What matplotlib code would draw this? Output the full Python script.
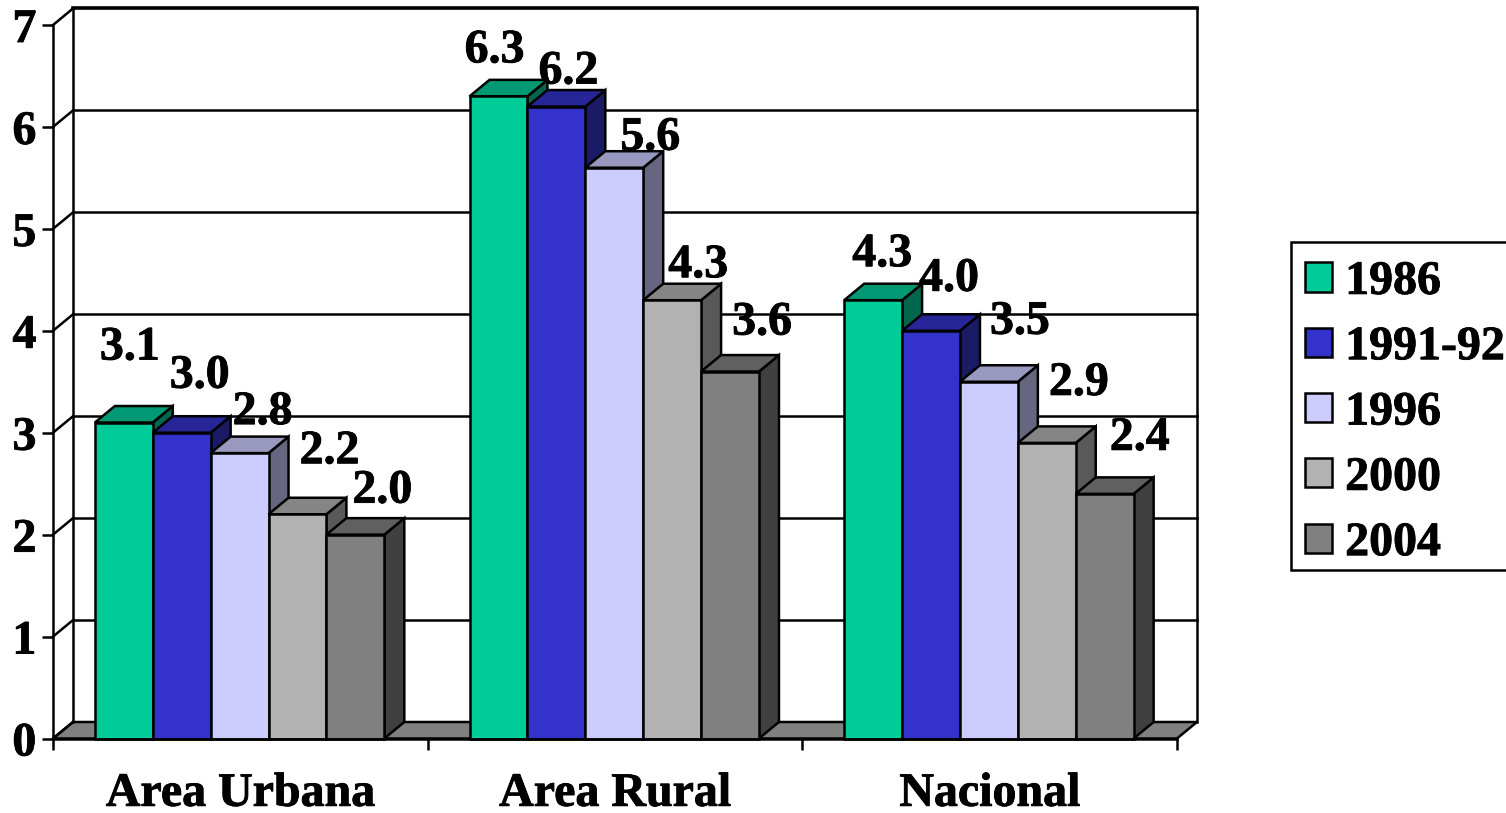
import numpy as np
import matplotlib
matplotlib.use('Agg')
import matplotlib.pyplot as plt
import matplotlib.patheffects as pe
from matplotlib.patches import Polygon, Patch, Rectangle
from matplotlib.text import Text

plt.rcParams['font.family'] = ['Liberation Serif', 'DejaVu Serif']
plt.rcParams['font.weight'] = 'bold'

# datos
categorias = ['Area Urbana', 'Area Rural', 'Nacional']
series = ['1986', '1991-92', '1996', '2000', '2004']
v_1986 = [3.1, 6.3, 4.3]
v_1991 = [3.0, 6.2, 4.0]
v_1996 = [2.8, 5.6, 3.5]
v_2000 = [2.2, 4.3, 2.9]
v_2004 = [2.0, 3.6, 2.4]
valores = [v_1986, v_1991, v_1996, v_2000, v_2004]
colores = ['#00CC99', '#3333CC', '#CCCCFF', '#B2B2B2', '#808080']

# desplazamiento manual de las etiquetas respecto al tope de cada barra (pixeles)
off_x = [[6, 18, 23, 32, 27], [-4, 12, 36, 26, 32], [9, 18, 31, 32, 35]]
off_y = [[63, 45, 29, 51, 32], [34, 23, 18, 23, 37], [34, 40, 48, 48, 44]]

W, H, FS = 1506, 813, 34.5
fig = plt.figure(figsize=(W / 100, H / 100), dpi=100)
ax = fig.add_axes([53 / W, (H - 738.5) / H, 1124 / W, 713.5 / H])
ax.set_xlim(0, 3)
ax.set_ylim(0, 7)

# profundidad del efecto 3D en unidades de datos
dx = 20 / (1124 / 3)
dy = 16.5 / (713.5 / 7)
bw = 0.1545
gap = (1 - 5 * bw) / 2 - 0.002
LW = 1.8


def sombra(color, f):
    rgb = np.array(matplotlib.colors.to_rgb(color))
    return tuple(rgb * f)


# paredes y piso
ax.add_patch(Polygon([(0, 0), (3, 0), (3 + dx, dy), (dx, dy)], closed=True, fc='#808080', ec='black',
                     lw=LW, clip_on=False, zorder=1))
ax.plot([dx, dx], [dy, 7 + dy], color='black', lw=LW, clip_on=False, zorder=1)
ax.plot([3 + dx, 3 + dx], [dy, 7 + dy], color='black', lw=LW, clip_on=False, zorder=1)
for t in range(1, 8):
    ax.plot([dx, 3 + dx], [t + dy, t + dy], color='black', lw=LW if t < 7 else 2.6, clip_on=False, zorder=1)
for t in range(0, 8):
    ax.plot([0, dx], [t, t + dy], color='black', lw=LW, clip_on=False, zorder=1)

# barras
for g in range(len(categorias)):
    for s in range(len(series)):
        x0 = g + gap + s * bw
        x1 = x0 + bw
        v = valores[s][g]
        c = colores[s]
        z = 2 + g + s * 0.1
        ax.add_patch(Polygon([(x1, 0), (x1 + dx, dy), (x1 + dx, v + dy), (x1, v)], closed=True,
                             fc=sombra(c, 0.5), ec='black', lw=LW, clip_on=False, zorder=z))
        ax.add_patch(Polygon([(x0, v), (x1, v), (x1 + dx, v + dy), (x0 + dx, v + dy)], closed=True,
                             fc=sombra(c, 0.75), ec='black', lw=LW, clip_on=False, zorder=z))
        ax.add_patch(Polygon([(x0, 0), (x1, 0), (x1, v), (x0, v)], closed=True,
                             fc=c, ec='black', lw=LW, clip_on=False, zorder=z + 0.01))

for g in range(len(categorias)):
    for s in range(len(series)):
        xc = g + gap + (s + 0.5) * bw
        ax.annotate('%.1f' % valores[s][g], (xc, valores[s][g]),
                    xytext=(off_x[g][s], off_y[g][s]), textcoords='offset pixels',
                    ha='center', va='baseline', fontsize=FS, fontweight='bold', zorder=20,
                    annotation_clip=False)

# ejes
for lado in ['top', 'right']:
    ax.spines[lado].set_visible(False)
for lado in ['left', 'bottom']:
    ax.spines[lado].set_linewidth(LW)
    ax.spines[lado].set_zorder(15)
ax.patch.set_alpha(0)
ax.set_yticks(range(8))
ax.tick_params(axis='y', length=8, width=LW, pad=4, labelsize=FS)
ax.set_xticks([0, 1, 2, 3])
ax.set_xticklabels([])
ax.tick_params(axis='x', which='major', length=8, width=LW)
ax.set_xticks([0.5, 1.5, 2.5], minor=True)
ax.set_xticklabels(categorias, minor=True, fontsize=FS, fontweight='bold')
ax.tick_params(axis='x', which='minor', length=0, pad=24)

# leyenda: marco aparte para ajustar el alto exacto
fig.add_artist(Rectangle((1291 / W, (H - 570) / H), 240 / W, 328 / H, transform=fig.transFigure,
                         fc='white', ec='black', lw=LW))
handles = [Patch(fc=c, ec='black', lw=LW) for c in colores]
ley = fig.legend(handles, series, loc='upper left', bbox_to_anchor=(1291 / W, (H - 245.5) / H),
                 bbox_transform=fig.transFigure, borderaxespad=0, fontsize=FS, frameon=False,
                 handlelength=0.56, handleheight=0.56, handletextpad=0.27, borderpad=0.3,
                 labelspacing=0.445)

# engrosar un poco el texto
for t in fig.findobj(Text):
    t.set_path_effects([pe.withStroke(linewidth=0.6, foreground='black')])

fig.savefig('out.png', dpi=100)
